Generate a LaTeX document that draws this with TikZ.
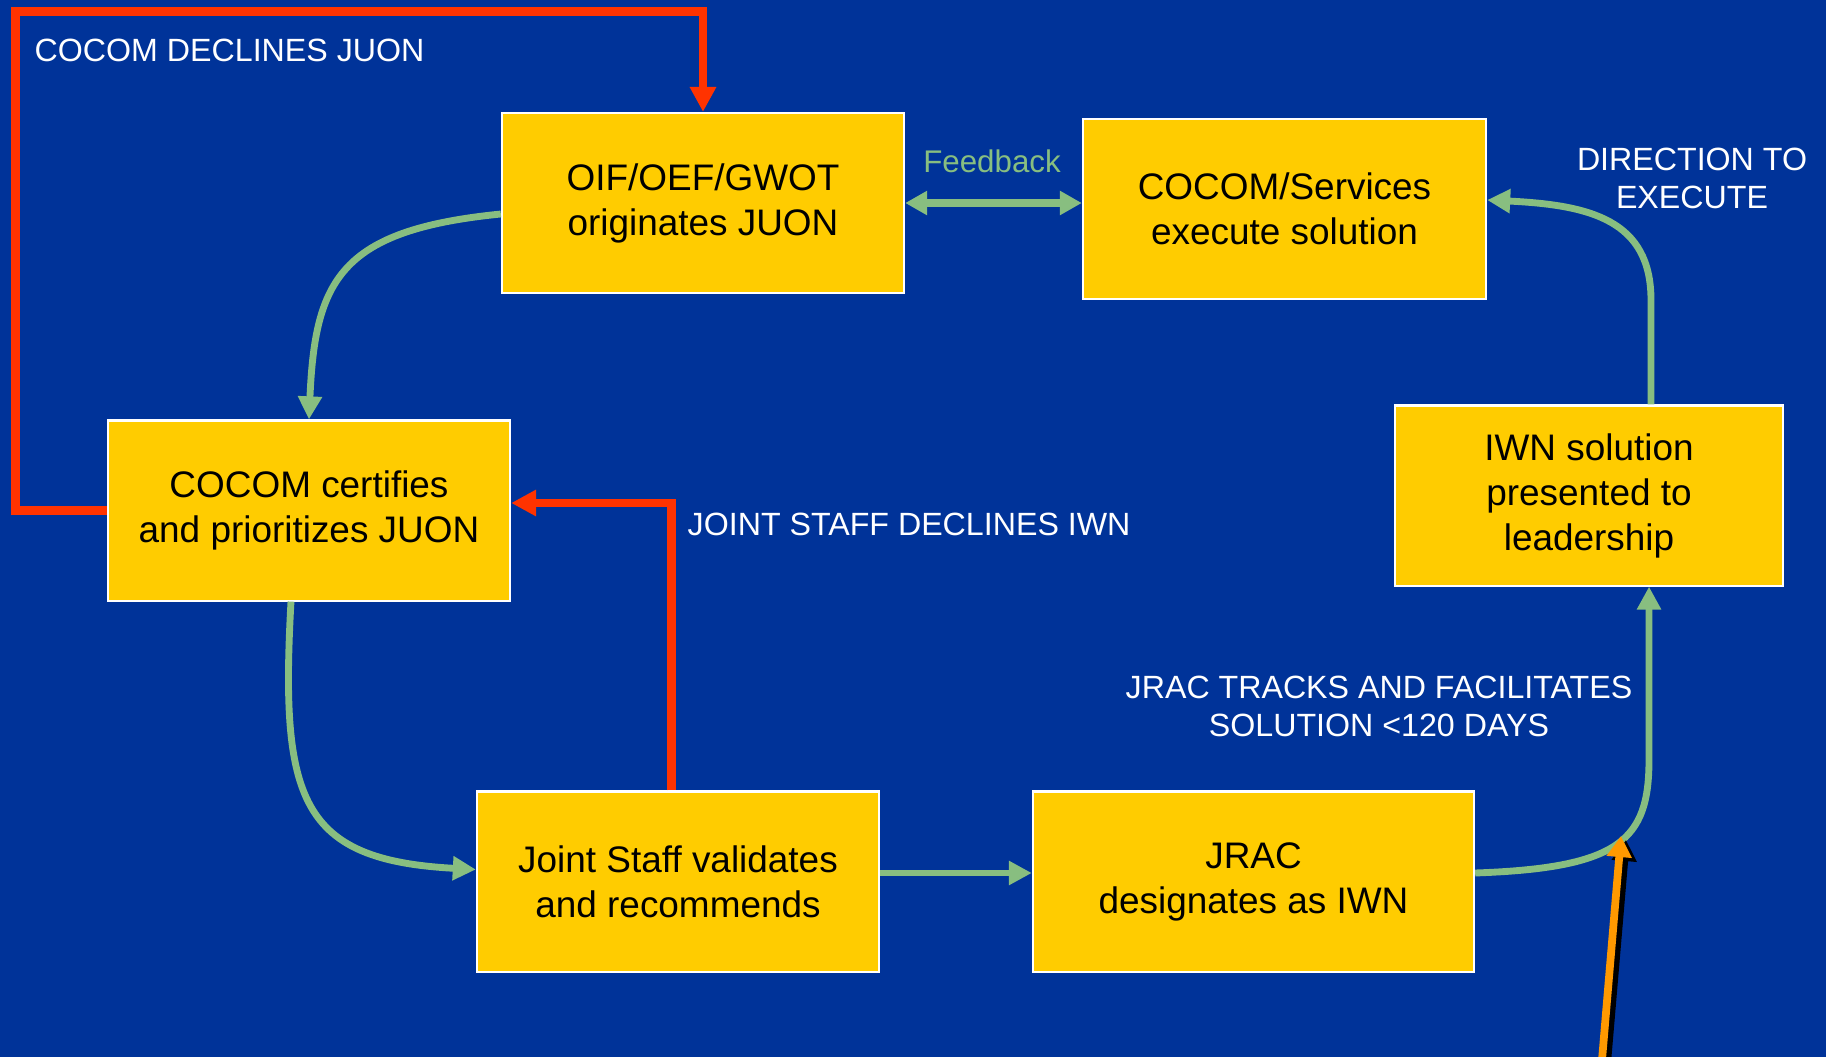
\documentclass[tikz,border=0pt]{standalone}
\usepackage{fontspec}
\setmainfont{Liberation Sans}
\usepackage{tikz}
\usetikzlibrary{arrows.meta}
\usepackage{xcolor}

\definecolor{slideblue}{RGB}{0,51,153}
\definecolor{boxyellow}{RGB}{255,204,0}
\definecolor{loopgreen}{RGB}{136,190,128}
\definecolor{declinered}{RGB}{255,51,0}
\definecolor{pushorange}{RGB}{255,153,0}

\begin{document}
\begin{tikzpicture}[x=0.01cm,y=-0.01cm,
  stepbox/.style={draw=white, line width=0.6pt, fill=boxyellow, text=black, align=center,
    minimum width=4.02cm, minimum height=1.8cm, inner sep=0pt, font=\fontsize{10.5}{12.8}\selectfont},
  caption/.style={text=white, align=center, inner sep=0pt, font=\fontsize{9.15}{10.8}\selectfont},
  flow/.style={loopgreen, line width=1.95pt, -{Triangle[length=0.23cm,width=0.23cm]}},
  decline/.style={declinered, line width=2.3pt, -{Triangle[length=0.25cm,width=0.25cm]}}]

\useasboundingbox (0,0) rectangle (1826,1057);

\fill[slideblue] (0,0) rectangle (1826,1057);

\node (oif) at (703,203) [stepbox] {OIF/OEF/GWOT\\originates JUON};

\node (exec) at (1284.5,209) [stepbox, minimum width=4.03cm] {COCOM/Services\\execute solution};

\node (cert) at (309,510.5) [stepbox] {COCOM certifies\\and prioritizes JUON};

\node (iwn) at (1589,495.5) [stepbox, minimum width=3.88cm] {IWN solution\\presented to\\leadership};

\node (jstaff) at (678,881.5) [stepbox] {Joint Staff validates\\and recommends};

\node (jrac) at (1253.5,881.5) [stepbox, minimum width=4.41cm] {JRAC\\designates as IWN};

\node (cocomno) at (34,50) [caption, anchor=west] {COCOM DECLINES JUON};

\node (jsno) at (687,524) [caption, anchor=west] {JOINT STAFF DECLINES IWN};

\node (fb) at (992,161) [caption, text=loopgreen, font=\fontsize{8.9}{10.6}\selectfont] {Feedback};

\node (dirlbl) at (1692,178) [caption] {DIRECTION TO\\EXECUTE};

\node (trklbl) at (1379,706) [caption] {JRAC TRACKS AND FACILITATES\\SOLUTION <120 DAYS};

\coordinate (topleft) at (15.5,11.5);

\draw[decline] (cert.west) -| (topleft) -| (oif.north);

\draw[decline] ([xshift=-0.065cm]jstaff.north) |- ([yshift=0.075cm]cert.east);

\draw[flow] ([yshift=-0.11cm]oif.west) .. controls (340,230) and (315,280) .. (cert.north);

\draw[flow] ([xshift=-0.18cm]cert.south) .. controls (280,800) and (300,860) .. ([yshift=0.12cm]jstaff.west);

\draw[flow] ([yshift=0.085cm]jstaff.east) -- ([yshift=0.085cm]jrac.west);

\draw[flow] ([yshift=0.085cm]jrac.east) .. controls (1620,868) and (1649,840) .. (1649,760) -- ([xshift=0.6cm]iwn.south);

\draw[flow] ([xshift=0.62cm]iwn.north) -- (1651,300) .. controls (1651,220) and (1590,205) .. ([yshift=0.09cm]exec.east);

\draw[loopgreen, line width=2.3pt, {Triangle[length=0.22cm,width=0.23cm]}-{Triangle[length=0.22cm,width=0.23cm]}] (oif.east) -- (oif.east -| exec.west);

\coordinate (pushfoot) at (1602,1060);
\coordinate (pushtip) at (1621,836);

\draw[black, line width=2.2pt, -{Triangle[length=0.21cm,width=0.24cm]}] ([shift={(0.05cm,-0.04cm)}]pushfoot) -- ([shift={(0.05cm,-0.04cm)}]pushtip);

\draw[pushorange, line width=2.2pt, -{Triangle[length=0.21cm,width=0.24cm]}] (pushfoot) -- (pushtip);

\end{tikzpicture}
\end{document}
